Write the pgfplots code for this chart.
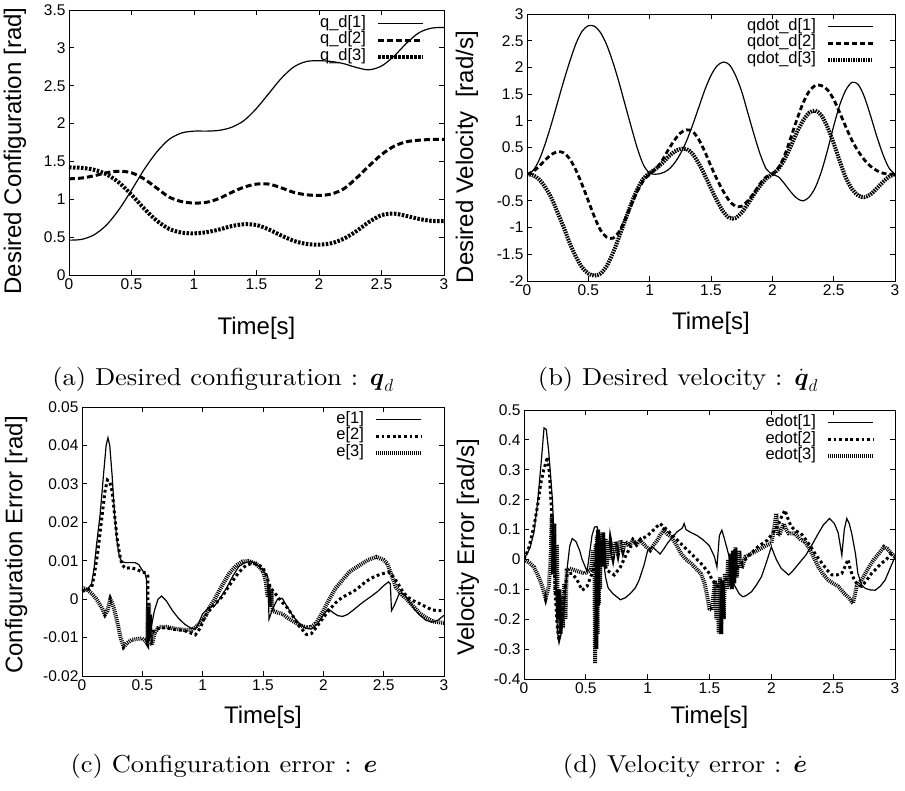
\documentclass[border=0pt]{standalone}
\usepackage{amsmath}
\usepackage{fontspec}
\usepackage{pgfplots}
\pgfplotsset{compat=1.18}
\newfontfamily\arial{Liberation Sans}
\newfontfamily\capfont{lmroman10-regular.otf}[FakeStretch=1.08]
\pgfplotsset{
  gp/.style={
    scale only axis, anchor=south west,
    xmin=0, xmax=3, xtick={0,0.5,1,1.5,2,2.5,3},
    tick align=inside, tick pos=both, major tick length=5pt,
    axis line style={line width=0.9pt},
    every tick/.style={line width=0.8pt, black},
    tick label style={font=\arial\fontsize{15.5}{15.5}\selectfont},
    /pgf/number format/assume math mode=true,
    xticklabel style={/pgf/number format/fixed},
    yticklabel style={/pgf/number format/fixed, /pgf/number format/precision=2},
    scaled y ticks=false,
    label style={font=\arial\fontsize{24}{24}\selectfont},
    xlabel={Time[s]},
    legend cell align=right, legend plot pos=right,
    legend image code/.code={\draw[##1] (0pt,0pt) -- (45pt,0pt);},
    legend style={draw=none, fill=none, inner sep=0pt, outer sep=0pt,
      font=\arial\fontsize{16.5}{16.5}\selectfont,
      nodes={inner sep=0pt, text height=12pt, text depth=4.5pt},
      row sep=0pt, column sep=10pt,
      at={(axis description cs:1,1)}, anchor=north east},
  },
  s1/.style={black, line width=1.2pt},
}
\tikzset{capt/.style={anchor=base, font=\capfont\fontsize{24.5}{28}\selectfont, inner sep=0pt}}
\begin{document}
\begin{tikzpicture}
\useasboundingbox (0,0) rectangle (905pt,791pt);

% (a)
\begin{axis}[gp, at={(69pt,516pt)}, width=375pt, height=265pt,
  ymin=0, ymax=3.5, ytick={0,0.5,1,1.5,2,2.5,3,3.5},
  ylabel={Desired Configuration [rad]},
  ylabel style={at={(axis description cs:-0.144,0.468)}, anchor=center},
  xlabel style={at={(axis description cs:0.5,-0.223)}, anchor=base},
  legend style={xshift=-19pt, yshift=-5.5pt}]
\addplot[s1, smooth] coordinates {(0,0.46)(0.1,0.47)(0.2,0.53)(0.3,0.66)(0.4,0.865)(0.5,1.12)(0.6,1.39)(0.7,1.62)(0.8,1.79)(0.9,1.875)(1.0,1.90)(1.1,1.90)(1.2,1.91)(1.3,1.95)(1.4,2.04)(1.5,2.20)(1.6,2.40)(1.7,2.60)(1.8,2.75)(1.9,2.82)(2.0,2.83)(2.1,2.82)(2.2,2.79)(2.3,2.74)(2.4,2.71)(2.5,2.76)(2.6,2.89)(2.7,3.06)(2.8,3.20)(2.9,3.26)(3.0,3.27)};
\addlegendentry{q\_d[1]}
\addplot[black, line width=3pt, dash pattern=on 6pt off 3pt, smooth] coordinates {(0,1.27)(0.1,1.28)(0.2,1.31)(0.3,1.35)(0.4,1.37)(0.5,1.35)(0.6,1.27)(0.7,1.15)(0.8,1.03)(0.9,0.97)(1.0,0.95)(1.1,0.96)(1.2,1.01)(1.3,1.09)(1.4,1.16)(1.5,1.20)(1.6,1.20)(1.7,1.15)(1.8,1.09)(1.9,1.06)(2.0,1.05)(2.1,1.07)(2.2,1.14)(2.3,1.28)(2.4,1.44)(2.5,1.59)(2.6,1.70)(2.7,1.76)(2.8,1.78)(2.9,1.79)(3.0,1.79)};
\addlegendentry{q\_d[2]}
\addplot[black, line width=4pt, dash pattern=on 2.5pt off 1.5pt, smooth] coordinates {(0,1.42)(0.1,1.415)(0.2,1.39)(0.3,1.33)(0.4,1.22)(0.5,1.06)(0.6,0.88)(0.7,0.72)(0.8,0.61)(0.9,0.56)(1.0,0.55)(1.1,0.565)(1.2,0.60)(1.3,0.645)(1.4,0.67)(1.5,0.66)(1.6,0.60)(1.7,0.52)(1.8,0.45)(1.9,0.41)(2.0,0.40)(2.1,0.42)(2.2,0.48)(2.3,0.58)(2.4,0.70)(2.5,0.79)(2.6,0.81)(2.7,0.78)(2.8,0.74)(2.9,0.715)(3.0,0.71)};
\addlegendentry{q\_d[3]}
\end{axis}

% (b)
\begin{axis}[gp, at={(527pt,510pt)}, width=368pt, height=267pt,
  ymin=-2, ymax=3, ytick={-2,-1.5,-1,-0.5,0,0.5,1,1.5,2,2.5,3},
  ylabel={Desired Velocity~~[rad/s]},
  ylabel style={at={(axis description cs:-0.163,0.464)}, anchor=center},
  xlabel style={at={(axis description cs:0.5,-0.18)}, anchor=base},
  legend style={xshift=-20pt, yshift=-4.5pt}]
\addplot[s1, smooth] coordinates {(0,0)(0.05,0.07)(0.1,0.27)(0.15,0.58)(0.2,0.95)(0.25,1.35)(0.3,1.75)(0.35,2.12)(0.4,2.45)(0.45,2.68)(0.5,2.78)(0.55,2.77)(0.6,2.65)(0.65,2.42)(0.7,2.1)(0.75,1.72)(0.8,1.3)(0.85,0.88)(0.9,0.48)(0.95,0.17)(1.0,0.02)(1.05,0.0)(1.1,0.02)(1.15,0.08)(1.2,0.2)(1.25,0.38)(1.3,0.62)(1.35,0.92)(1.4,1.25)(1.45,1.58)(1.5,1.85)(1.55,2.03)(1.6,2.1)(1.65,2.05)(1.7,1.85)(1.75,1.55)(1.8,1.15)(1.85,0.75)(1.9,0.38)(1.95,0.1)(2.0,0.0)(2.05,-0.05)(2.1,-0.18)(2.15,-0.33)(2.2,-0.45)(2.25,-0.5)(2.3,-0.43)(2.35,-0.25)(2.4,0.05)(2.45,0.45)(2.5,0.9)(2.55,1.3)(2.6,1.58)(2.65,1.72)(2.7,1.68)(2.75,1.45)(2.8,1.1)(2.85,0.72)(2.9,0.38)(2.95,0.12)(3.0,0.0)};
\addlegendentry{qdot\_d[1]}
\addplot[black, line width=2.8pt, dash pattern=on 5pt off 3pt, smooth] coordinates {(0,0)(0.05,0.05)(0.1,0.15)(0.15,0.27)(0.2,0.37)(0.25,0.42)(0.3,0.4)(0.35,0.28)(0.4,0.07)(0.45,-0.2)(0.5,-0.5)(0.55,-0.8)(0.6,-1.05)(0.65,-1.18)(0.7,-1.2)(0.75,-1.08)(0.8,-0.85)(0.85,-0.58)(0.9,-0.32)(0.95,-0.12)(1.0,0.0)(1.05,0.1)(1.1,0.25)(1.15,0.45)(1.2,0.63)(1.25,0.77)(1.3,0.83)(1.35,0.8)(1.4,0.65)(1.45,0.42)(1.5,0.15)(1.55,-0.1)(1.6,-0.32)(1.65,-0.5)(1.7,-0.6)(1.75,-0.6)(1.8,-0.5)(1.85,-0.35)(1.9,-0.18)(1.95,-0.05)(2.0,0.0)(2.05,0.12)(2.1,0.35)(2.15,0.68)(2.2,1.02)(2.25,1.33)(2.3,1.55)(2.35,1.66)(2.4,1.66)(2.45,1.58)(2.5,1.4)(2.55,1.15)(2.6,0.88)(2.65,0.63)(2.7,0.43)(2.75,0.27)(2.8,0.15)(2.85,0.07)(2.9,0.02)(2.95,0.0)(3.0,0.0)};
\addlegendentry{qdot\_d[2]}
\addplot[black, line width=4pt, dash pattern=on 1.5pt off 1pt, smooth] coordinates {(0,0)(0.05,-0.02)(0.1,-0.1)(0.15,-0.25)(0.2,-0.45)(0.25,-0.72)(0.3,-1.0)(0.35,-1.3)(0.4,-1.55)(0.45,-1.75)(0.5,-1.86)(0.55,-1.9)(0.6,-1.86)(0.65,-1.72)(0.7,-1.48)(0.75,-1.18)(0.8,-0.86)(0.85,-0.55)(0.9,-0.28)(0.95,-0.08)(1.0,0.02)(1.05,0.1)(1.1,0.2)(1.15,0.32)(1.2,0.42)(1.25,0.47)(1.3,0.47)(1.35,0.38)(1.4,0.2)(1.45,-0.02)(1.5,-0.27)(1.55,-0.5)(1.6,-0.7)(1.65,-0.82)(1.7,-0.82)(1.75,-0.72)(1.8,-0.56)(1.85,-0.38)(1.9,-0.22)(1.95,-0.08)(2.0,0.0)(2.05,0.1)(2.1,0.28)(2.15,0.52)(2.2,0.78)(2.25,1.0)(2.3,1.15)(2.35,1.19)(2.4,1.1)(2.45,0.88)(2.5,0.58)(2.55,0.24)(2.6,-0.07)(2.65,-0.28)(2.7,-0.4)(2.75,-0.43)(2.8,-0.38)(2.85,-0.27)(2.9,-0.15)(2.95,-0.05)(3.0,0.0)};
\addlegendentry{qdot\_d[3]}
\end{axis}

% (c)
\begin{axis}[gp, at={(82pt,115pt)}, width=362pt, height=269pt,
  ymin=-0.02, ymax=0.05, ytick={-0.02,-0.01,0,0.01,0.02,0.03,0.04,0.05},
  ylabel={Configuration Error [rad]},
  ylabel style={at={(axis description cs:-0.182,0.487)}, anchor=center},
  xlabel style={at={(axis description cs:0.5,-0.178)}, anchor=base},
  legend style={xshift=-21pt, yshift=-4.5pt}]
\addplot[s1] coordinates {(0,0.0022)(0.05,0.0028)(0.08,0.004)(0.1,0.008)(0.12,0.014)(0.15,0.022)(0.18,0.033)(0.2,0.040)(0.215,0.042)(0.23,0.040)(0.25,0.032)(0.27,0.022)(0.29,0.015)(0.31,0.011)(0.33,0.0098)(0.36,0.0095)(0.4,0.0095)(0.44,0.0095)(0.47,0.009)(0.5,0.0075)(0.525,0.0065)(0.535,0.005)(0.54,-0.0102)(0.55,-0.011)(0.57,-0.008)(0.6,-0.003)(0.63,0.0)(0.66,0.0008)(0.7,-0.0005)(0.75,-0.003)(0.8,-0.005)(0.85,-0.0065)(0.9,-0.0075)(0.94,-0.0078)(0.97,-0.006)(1.0,-0.0038)(1.05,-0.0022)(1.1,-0.0017)(1.15,0.0005)(1.2,0.003)(1.25,0.006)(1.3,0.0085)(1.35,0.0095)(1.4,0.0098)(1.45,0.009)(1.5,0.0075)(1.54,0.0058)(1.55,-0.0052)(1.58,-0.0025)(1.62,0.0)(1.66,0.0002)(1.7,-0.002)(1.75,-0.0045)(1.8,-0.0063)(1.85,-0.0075)(1.9,-0.0078)(1.95,-0.0065)(2.0,-0.0042)(2.04,-0.0025)(2.08,-0.0035)(2.12,-0.0043)(2.16,-0.0045)(2.2,-0.004)(2.25,-0.0028)(2.3,-0.0015)(2.35,-0.0003)(2.4,0.0008)(2.45,0.002)(2.5,0.0035)(2.54,0.0045)(2.555,0.004)(2.565,-0.003)(2.59,-0.0015)(2.63,0.0015)(2.66,0.0015)(2.7,0.0)(2.75,-0.0025)(2.8,-0.0042)(2.85,-0.0055)(2.9,-0.006)(2.95,-0.0055)(3.0,-0.0042)};
\addlegendentry{e[1]}
\addplot[black, line width=3pt, dash pattern=on 2.8pt off 2.8pt] coordinates {(0,0.002)(0.05,0.0025)(0.08,0.003)(0.1,0.006)(0.13,0.012)(0.16,0.02)(0.19,0.028)(0.21,0.031)(0.23,0.0305)(0.25,0.028)(0.27,0.022)(0.29,0.016)(0.31,0.012)(0.33,0.009)(0.36,0.008)(0.4,0.0082)(0.45,0.0078)(0.5,0.007)(0.53,0.0068)(0.545,0.006)(0.55,-0.0105)(0.57,-0.0095)(0.6,-0.008)(0.65,-0.0075)(0.7,-0.0075)(0.75,-0.0078)(0.8,-0.008)(0.85,-0.0082)(0.9,-0.0088)(0.94,-0.0093)(0.98,-0.0075)(1.02,-0.0045)(1.08,-0.002)(1.16,0.0006)(1.22,0.0035)(1.3,0.007)(1.36,0.0088)(1.41,0.0093)(1.46,0.009)(1.5,0.0082)(1.53,0.006)(1.56,0.003)(1.6,0.0015)(1.65,-0.0005)(1.7,-0.0022)(1.75,-0.0045)(1.8,-0.007)(1.86,-0.0092)(1.9,-0.009)(1.95,-0.007)(2.0,-0.0048)(2.05,-0.0028)(2.1,-0.001)(2.15,0.0003)(2.2,0.0012)(2.25,0.002)(2.3,0.0032)(2.35,0.0045)(2.4,0.0055)(2.45,0.0062)(2.5,0.0067)(2.55,0.007)(2.58,0.0058)(2.62,0.004)(2.66,0.0018)(2.7,0.0005)(2.75,-0.0005)(2.8,-0.0012)(2.85,-0.002)(2.9,-0.0028)(2.95,-0.003)(3.0,-0.003)};
\addlegendentry{e[2]}
\addplot[black, line width=4pt, dash pattern=on 1pt off 1pt] coordinates {(0,0.003)(0.04,0.0025)(0.08,0.0015)(0.12,0.0)(0.16,-0.002)(0.19,-0.004)(0.21,-0.003)(0.235,0.0)(0.25,-0.001)(0.27,-0.003)(0.3,-0.007)(0.32,-0.01)(0.345,-0.0124)(0.37,-0.0115)(0.41,-0.0106)(0.45,-0.0104)(0.5,-0.0102)(0.53,-0.011)(0.54,-0.0115)(0.545,-0.002)(0.55,-0.011)(0.555,-0.001)(0.56,-0.01)(0.565,-0.004)(0.57,-0.011)(0.58,-0.012)(0.6,-0.009)(0.635,-0.0072)(0.7,-0.0072)(0.75,-0.0076)(0.8,-0.0078)(0.85,-0.008)(0.91,-0.008)(0.96,-0.0068)(1.02,-0.0046)(1.06,-0.002)(1.1,0.0)(1.16,0.0035)(1.22,0.0067)(1.28,0.0088)(1.33,0.0098)(1.38,0.0099)(1.44,0.0093)(1.48,0.008)(1.5,0.0072)(1.52,0.005)(1.54,0.0005)(1.55,0.004)(1.56,-0.002)(1.57,0.002)(1.58,-0.003)(1.62,-0.0035)(1.66,-0.0038)(1.7,-0.0048)(1.75,-0.0058)(1.8,-0.0067)(1.86,-0.0074)(1.9,-0.0072)(1.94,-0.0063)(2.0,-0.003)(2.05,0.0)(2.1,0.0028)(2.16,0.005)(2.22,0.0072)(2.3,0.0088)(2.37,0.0102)(2.44,0.011)(2.5,0.0102)(2.53,0.0093)(2.56,0.0067)(2.6,0.0032)(2.65,0.0012)(2.69,0.0)(2.75,-0.002)(2.8,-0.0037)(2.85,-0.0048)(2.91,-0.0058)(2.95,-0.006)(3.0,-0.0062)};
\addlegendentry{e[3]}
\end{axis}

% (d)
\begin{axis}[gp, at={(524pt,112pt)}, width=371pt, height=269pt,
  ymin=-0.4, ymax=0.5, ytick={-0.4,-0.3,-0.2,-0.1,0,0.1,0.2,0.3,0.4,0.5},
  ylabel={Velocity Error [rad/s]},
  ylabel style={at={(axis description cs:-0.151,0.49)}, anchor=center},
  xlabel style={at={(axis description cs:0.5,-0.167)}, anchor=base},
  legend style={xshift=-20pt, yshift=-4.5pt}]
\addplot[s1] coordinates {(0,0)(0.05,0.04)(0.08,0.09)(0.11,0.19)(0.14,0.33)(0.162,0.44)(0.18,0.435)(0.2,0.36)(0.23,0.2)(0.25,0.0)(0.27,-0.24)(0.283,-0.28)(0.3,-0.25)(0.32,-0.19)(0.35,-0.025)(0.37,0.045)(0.39,0.07)(0.42,0.06)(0.45,0.03)(0.47,0.0)(0.51,-0.04)(0.53,0.02)(0.55,0.08)(0.57,0.108)(0.59,0.11)(0.61,0.08)(0.635,0.02)(0.66,-0.06)(0.68,-0.095)(0.72,-0.115)(0.78,-0.135)(0.82,-0.128)(0.86,-0.114)(0.9,-0.095)(0.93,-0.07)(0.97,-0.02)(1.0,0.03)(1.04,0.042)(1.07,0.03)(1.1,0.018)(1.13,0.035)(1.16,0.054)(1.2,0.075)(1.24,0.093)(1.28,0.105)(1.295,0.12)(1.31,0.1)(1.35,0.09)(1.4,0.08)(1.45,0.065)(1.5,0.045)(1.54,0.009)(1.56,-0.025)(1.58,0.08)(1.6,0.098)(1.62,0.07)(1.665,0.0)(1.7,-0.085)(1.74,-0.115)(1.77,-0.125)(1.8,-0.12)(1.84,-0.108)(1.88,-0.085)(1.92,-0.058)(1.96,-0.01)(2.0,0.042)(2.04,0.0)(2.08,-0.03)(2.11,-0.041)(2.14,-0.052)(2.17,-0.04)(2.2,-0.025)(2.24,-0.005)(2.28,0.015)(2.33,0.05)(2.38,0.087)(2.42,0.115)(2.47,0.137)(2.51,0.12)(2.54,0.09)(2.56,0.04)(2.57,0.014)(2.59,0.1)(2.61,0.137)(2.63,0.12)(2.65,0.087)(2.68,0.02)(2.7,-0.047)(2.73,-0.085)(2.76,-0.097)(2.8,-0.102)(2.84,-0.103)(2.88,-0.09)(2.92,-0.069)(2.96,-0.03)(3.0,0.009)};
\addlegendentry{edot[1]}
\addplot[black, line width=3pt, dash pattern=on 2.8pt off 2.8pt] coordinates {(0,0)(0.04,0.04)(0.08,0.11)(0.11,0.18)(0.135,0.254)(0.16,0.3)(0.19,0.343)(0.205,0.29)(0.22,0.18)(0.24,0.02)(0.256,-0.136)(0.27,-0.23)(0.283,-0.27)(0.3,-0.22)(0.31,-0.18)(0.33,-0.1)(0.35,-0.047)(0.39,-0.047)(0.43,-0.069)(0.47,-0.103)(0.51,-0.09)(0.55,-0.047)(0.58,-0.01)(0.6,0.02)(0.62,0.031)(0.65,-0.01)(0.67,-0.036)(0.73,-0.052)(0.78,-0.025)(0.82,0.01)(0.86,0.042)(0.9,0.055)(0.94,0.065)(1.0,0.08)(1.05,0.1)(1.1,0.12)(1.16,0.098)(1.2,0.08)(1.24,0.065)(1.3,0.04)(1.35,0.02)(1.43,-0.013)(1.5,-0.047)(1.52,-0.069)(1.57,-0.09)(1.6,-0.08)(1.625,-0.069)(1.68,-0.047)(1.73,-0.025)(1.81,0.009)(1.89,0.042)(1.97,0.065)(2.05,0.11)(2.08,0.14)(2.11,0.165)(2.14,0.13)(2.16,0.11)(2.2,0.095)(2.24,0.087)(2.28,0.065)(2.32,0.042)(2.36,0.015)(2.41,-0.013)(2.45,-0.035)(2.49,-0.052)(2.53,-0.052)(2.57,-0.047)(2.6,-0.02)(2.62,0.0)(2.64,-0.035)(2.67,-0.069)(2.7,-0.085)(2.73,-0.09)(2.77,-0.07)(2.81,-0.047)(2.85,-0.03)(2.89,-0.013)(2.93,0.0)(2.97,0.02)(3.0,0.015)};
\addlegendentry{edot[2]}
\addplot[black, line width=4pt, dash pattern=on 1pt off 1pt] coordinates {(0,0)(0.04,-0.01)(0.08,-0.025)(0.12,-0.06)(0.148,-0.09)(0.175,-0.13)(0.2,-0.09)(0.215,0.0)(0.225,0.15)(0.235,-0.05)(0.245,0.12)(0.255,-0.12)(0.265,0.05)(0.275,-0.2)(0.285,-0.1)(0.295,-0.25)(0.305,-0.12)(0.315,-0.23)(0.325,-0.08)(0.335,-0.2)(0.345,-0.036)(0.37,-0.03)(0.4,-0.035)(0.44,-0.04)(0.49,-0.047)(0.54,-0.036)(0.56,0.03)(0.57,-0.05)(0.575,-0.348)(0.58,0.05)(0.585,-0.3)(0.59,0.08)(0.595,-0.25)(0.6,0.1)(0.605,-0.15)(0.61,0.09)(0.615,-0.1)(0.62,0.065)(0.63,-0.02)(0.64,0.09)(0.65,-0.025)(0.66,0.07)(0.67,-0.02)(0.68,0.06)(0.69,0.0)(0.7,0.055)(0.72,0.01)(0.74,0.06)(0.76,0.02)(0.78,0.065)(0.8,0.03)(0.82,0.06)(0.85,0.045)(0.88,0.065)(0.91,0.05)(0.94,0.065)(0.98,0.045)(1.02,0.031)(1.05,0.05)(1.08,0.065)(1.1,0.08)(1.13,0.098)(1.16,0.085)(1.19,0.076)(1.23,0.05)(1.27,0.02)(1.31,0.0)(1.35,-0.013)(1.39,-0.03)(1.43,-0.047)(1.46,-0.08)(1.48,-0.12)(1.5,-0.165)(1.52,-0.17)(1.53,-0.125)(1.545,-0.07)(1.555,-0.2)(1.565,-0.08)(1.575,-0.247)(1.585,-0.06)(1.595,-0.25)(1.605,-0.07)(1.615,-0.2)(1.625,-0.047)(1.64,-0.1)(1.65,0.0)(1.66,-0.09)(1.67,0.02)(1.68,-0.1)(1.69,0.03)(1.7,-0.08)(1.71,0.04)(1.72,-0.06)(1.74,0.03)(1.76,-0.03)(1.79,0.009)(1.84,0.02)(1.89,0.031)(1.95,0.045)(2.0,0.054)(2.02,0.1)(2.04,0.154)(2.055,0.08)(2.07,0.087)(2.1,0.12)(2.12,0.1)(2.14,0.087)(2.19,0.087)(2.24,0.065)(2.27,0.06)(2.3,0.042)(2.34,0.01)(2.38,-0.025)(2.42,-0.05)(2.46,-0.069)(2.5,-0.08)(2.54,-0.09)(2.59,-0.114)(2.63,-0.13)(2.66,-0.147)(2.69,-0.09)(2.73,-0.069)(2.79,-0.025)(2.83,0.0)(2.87,0.02)(2.91,0.042)(2.94,0.035)(2.97,0.02)(3.0,0.009)};
\addlegendentry{edot[3]}
\end{axis}

\node[capt] at (223pt,405pt) {(a) Desired configuration : $\boldsymbol{q}_d$};
\node[capt] at (678pt,405pt) {(b) Desired velocity : $\dot{\boldsymbol{q}}_d$};
\node[capt] at (224pt,18pt) {(c) Configuration error : $\boldsymbol{e}$};
\node[capt] at (685pt,18pt) {(d) Velocity error : $\dot{\boldsymbol{e}}$};
\end{tikzpicture}
\end{document}
